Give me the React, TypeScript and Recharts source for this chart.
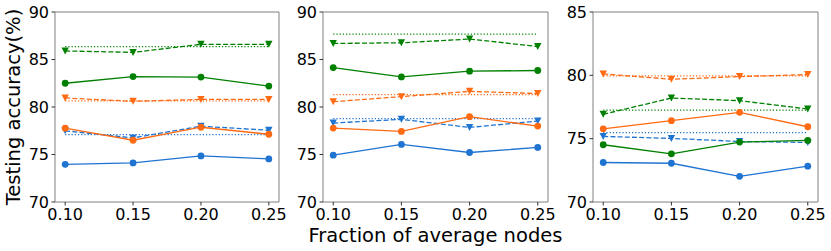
import React from 'react';
import { LineChart, Line, XAxis, YAxis, ReferenceArea } from 'recharts';

// x categories (fraction of average nodes)
const fractions = [0.1, 0.15, 0.2, 0.25];
const xTicks = [0.1, 0.15, 0.2, 0.25];

// Panel 1
const p1BlueSolid = [73.97, 74.11, 74.85, 74.53];
const p1BlueDashed = [77.5, 76.75, 77.98, 77.55];
const p1BlueDotted = 77.1;
const p1OrangeSolid = [77.77, 76.5, 77.87, 77.13];
const p1OrangeDashed = [80.95, 80.6, 80.8, 80.8];
const p1OrangeDotted = 80.65;
const p1GreenSolid = [82.5, 83.2, 83.15, 82.2];
const p1GreenDashed = [85.9, 85.75, 86.6, 86.6];
const p1GreenDotted = 86.35;
const p1YTicks = [70, 75, 80, 85, 90];

// Panel 2
const p2BlueSolid = [74.93, 76.06, 75.21, 75.74];
const p2BlueDashed = [78.31, 78.7, 77.85, 78.52];
const p2BlueDotted = 78.77;
const p2OrangeSolid = [77.78, 77.43, 78.98, 77.99];
const p2OrangeDashed = [80.56, 81.09, 81.65, 81.41];
const p2OrangeDotted = 81.3;
const p2GreenSolid = [84.15, 83.17, 83.77, 83.84];
const p2GreenDashed = [86.69, 86.76, 87.15, 86.37];
const p2GreenDotted = 87.68;
const p2YTicks = [70, 75, 80, 85, 90];

// Panel 3
const p3BlueSolid = [73.12, 73.06, 72.03, 72.83];
const p3BlueDashed = [75.18, 75.02, 74.78, 74.7];
const p3BlueDotted = 75.47;
const p3OrangeSolid = [75.78, 76.42, 77.08, 75.94];
const p3OrangeDashed = [80.11, 79.69, 79.9, 80.06];
const p3OrangeDotted = 79.96;
const p3GreenSolid = [74.52, 73.8, 74.73, 74.86];
const p3GreenDashed = [76.92, 78.21, 78.0, 77.34];
const p3GreenDotted = 77.26;
const p3YTicks = [70, 75, 80, 85];

const BLUE = '#1f74d2';
const ORANGE = '#ff6a12';
const GREEN = '#008000';
const FONT = 'DejaVu Sans, sans-serif';

function buildRows(
  bs: number[], bd: number[], bdot: number,
  os: number[], od: number[], odot: number,
  gs: number[], gd: number[], gdot: number
) {
  return fractions.map((x, i) => ({
    x,
    bs: bs[i], bd: bd[i], bdot,
    os: os[i], od: od[i], odot,
    gs: gs[i], gd: gd[i], gdot,
  }));
}

const circleDot = (color: string) => (props: any) => (
  <circle key={`c-${props.index}`} cx={props.cx} cy={props.cy} r={3.4} fill={color} stroke="none" />
);
const triDot = (color: string) => (props: any) => {
  const { cx, cy } = props;
  return (
    <path
      key={`t-${props.index}`}
      d={`M${cx - 3.7},${cy - 3.5}L${cx + 3.7},${cy - 3.5}L${cx},${cy + 3.5}Z`}
      fill={color}
      stroke="none"
    />
  );
};

const panels = [
  {
    rows: buildRows(p1BlueSolid, p1BlueDashed, p1BlueDotted, p1OrangeSolid, p1OrangeDashed, p1OrangeDotted, p1GreenSolid, p1GreenDashed, p1GreenDotted),
    yDomain: [70, 90], yTicks: p1YTicks, left: 0, width: 290, right: 11, yWidth: 55, yLabel: true, xLabel: false,
  },
  {
    rows: buildRows(p2BlueSolid, p2BlueDashed, p2BlueDotted, p2OrangeSolid, p2OrangeDashed, p2OrangeDotted, p2GreenSolid, p2GreenDashed, p2GreenDotted),
    yDomain: [70, 90], yTicks: p2YTicks, left: 280, width: 300, right: 32, yWidth: 43, yLabel: false, xLabel: true,
  },
  {
    rows: buildRows(p3BlueSolid, p3BlueDashed, p3BlueDotted, p3OrangeSolid, p3OrangeDashed, p3OrangeDotted, p3GreenSolid, p3GreenDashed, p3GreenDotted),
    yDomain: [70, 85], yTicks: p3YTicks, left: 550, width: 281, right: 13, yWidth: 43, yLabel: false, xLabel: false,
  },
];

const X_DOMAIN: [number, number] = [0.0925, 0.2575];
const tickStyle = { fill: '#000', fontSize: 16, fontFamily: FONT };

function Panel({ p }: { p: any }) {
  const series = [
    { key: 'bs', color: BLUE, dash: undefined, dot: circleDot(BLUE) },
    { key: 'bd', color: BLUE, dash: '5 2.2', dot: triDot(BLUE) },
    { key: 'bdot', color: BLUE, dash: '1.2 2', dot: false },
    { key: 'os', color: ORANGE, dash: undefined, dot: circleDot(ORANGE) },
    { key: 'od', color: ORANGE, dash: '5 2.2', dot: triDot(ORANGE) },
    { key: 'odot', color: ORANGE, dash: '1.2 2', dot: false },
    { key: 'gs', color: GREEN, dash: undefined, dot: circleDot(GREEN) },
    { key: 'gd', color: GREEN, dash: '5 2.2', dot: triDot(GREEN) },
    { key: 'gdot', color: GREEN, dash: '1.2 2', dot: false },
  ];
  return (
    <div style={{ position: 'absolute', left: p.left, top: 0 }}>
      <LineChart
        width={p.width}
        height={251}
        data={p.rows}
        margin={{ top: 12, right: p.right, bottom: 0, left: 0 }}
      >
        <XAxis
          dataKey="x"
          type="number"
          domain={X_DOMAIN}
          allowDataOverflow
          ticks={xTicks}
          interval={0}
          tickFormatter={(v: number) => v.toFixed(2)}
          height={49}
          axisLine={false}
          tickLine={{ stroke: '#000', strokeWidth: 0.8 }}
          tickSize={3.5}
          tickMargin={3}
          tick={tickStyle}
          label={
            p.xLabel
              ? (lp: any) => {
                  const vb = lp.viewBox || {};
                  return (
                    <text
                      x={vb.x + vb.width / 2}
                      y={242}
                      textAnchor="middle"
                      fontSize={19.5}
                      fontFamily={FONT}
                      fill="#000"
                    >
                      Fraction of average nodes
                    </text>
                  );
                }
              : undefined
          }
        />
        <YAxis
          type="number"
          domain={p.yDomain}
          ticks={p.yTicks}
          interval={0}
          allowDataOverflow
          width={p.yWidth}
          axisLine={false}
          tickLine={{ stroke: '#000', strokeWidth: 0.8 }}
          tickSize={3.5}
          tickMargin={2.5}
          tick={tickStyle}
          label={
            p.yLabel
              ? (lp: any) => {
                  const vb = lp.viewBox || {};
                  const cy = vb.y + vb.height / 2;
                  return (
                    <text
                      x={20}
                      y={cy}
                      transform={`rotate(-90, 20, ${cy})`}
                      textAnchor="middle"
                      fontSize={19.5}
                      fontFamily={FONT}
                      fill="#000"
                    >
                      Testing accuracy(%)
                    </text>
                  );
                }
              : undefined
          }
        />
        <ReferenceArea
          x1={X_DOMAIN[0]}
          x2={X_DOMAIN[1]}
          y1={p.yDomain[0]}
          y2={p.yDomain[1]}
          fill="none"
          fillOpacity={0}
          stroke="#808080"
          strokeWidth={1}
        />
        {series.map((s) => (
          <Line
            key={s.key}
            dataKey={s.key}
            type="linear"
            stroke={s.color}
            strokeWidth={1.3}
            strokeDasharray={s.dash}
            dot={s.dot as any}
            activeDot={false}
            isAnimationActive={false}
          />
        ))}
      </LineChart>
    </div>
  );
}

export default function App() {
  return (
    <div style={{ position: 'absolute', left: 0, top: 0, width: 831, height: 251, background: '#fff', fontFamily: FONT }}>
      {panels.map((p, i) => (
        <Panel key={i} p={p} />
      ))}
    </div>
  );
}
